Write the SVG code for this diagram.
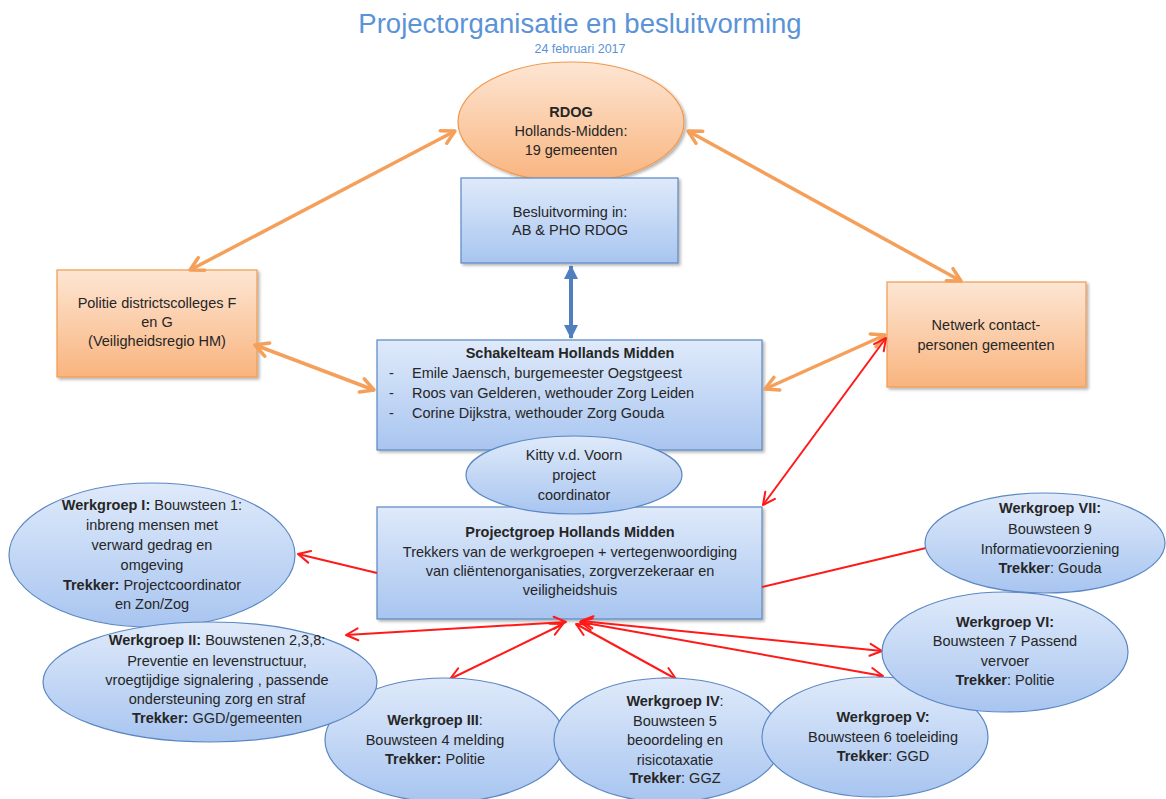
<svg xmlns="http://www.w3.org/2000/svg" width="1166" height="799" viewBox="0 0 1166 799">
<style>
text{font-family:"Liberation Sans",Arial,sans-serif;font-size:14.5px;fill:#262626;text-anchor:middle}
.b{font-weight:bold}
.bl{fill:url(#gBlue);stroke:#5b87c3;stroke-width:1.2}
.or{fill:url(#gOr);stroke:#f2994e;stroke-width:1.2}
.oa{stroke:#f5a05a;stroke-width:3.5;fill:none;marker-start:url(#mO);marker-end:url(#mO)}
.ra{stroke:#ff1a1a;stroke-width:2;fill:none}
.rd{marker-start:url(#mR);marker-end:url(#mR)}
.re{marker-end:url(#mR)}
</style>
<defs>
<linearGradient id="gBlue" x1="0" y1="0" x2="0" y2="1"><stop offset="0" stop-color="#dfeafa"/><stop offset="1" stop-color="#a8c5f0"/></linearGradient>
<linearGradient id="gOr" x1="0" y1="0" x2="0" y2="1"><stop offset="0" stop-color="#fde6d4"/><stop offset="1" stop-color="#f9b47e"/></linearGradient>
<filter id="sh" x="-10%" y="-10%" width="130%" height="130%"><feDropShadow dx="2" dy="2" stdDeviation="1.5" flood-color="#000" flood-opacity="0.3"/></filter>
<marker id="mO" markerUnits="userSpaceOnUse" markerWidth="18" markerHeight="18" viewBox="0 0 18 18" refX="16" refY="9" orient="auto-start-reverse"><path d="M3,2 L16,9 L3,16" fill="none" stroke="#f5a05a" stroke-width="3.5" stroke-linecap="round" stroke-linejoin="round"/></marker>
<marker id="mR" markerUnits="userSpaceOnUse" markerWidth="16" markerHeight="16" viewBox="0 0 16 16" refX="14" refY="8" orient="auto-start-reverse"><path d="M2,2 L14,8 L2,14" fill="none" stroke="#ff1a1a" stroke-width="2" stroke-linecap="round" stroke-linejoin="round"/></marker>
<marker id="mB" markerUnits="userSpaceOnUse" markerWidth="14" markerHeight="14" viewBox="0 0 14 14" refX="13" refY="7" orient="auto-start-reverse"><path d="M0,0 L14,7 L0,14 Z" fill="#4f7fbf"/></marker>
</defs>
<rect width="1166" height="799" fill="#ffffff"/>
<g id="title">
<text x="580" y="33" style="font-size:27.5px;fill:#5b93d8">Projectorganisatie en besluitvorming</text>
<text x="580" y="53" style="font-size:12.5px;fill:#5b93d8">24 februari 2017</text>
</g>
<g id="rdog">
<ellipse class="or" cx="571" cy="122" rx="113" ry="60" filter="url(#sh)"/>
<text x="571" y="117" class="b">RDOG</text>
<text x="571" y="136">Hollands-Midden:</text>
<text x="571" y="155">19 gemeenten</text>
</g>
<g id="besluitvorming">
<rect class="bl" x="461" y="178" width="217" height="85" filter="url(#sh)"/>
<text x="570" y="217">Besluitvorming in:</text>
<text x="570" y="235">AB &amp; PHO RDOG</text>
</g>
<g id="politie">
<rect class="or" x="57" y="270" width="200" height="107" filter="url(#sh)"/>
<text x="157" y="308">Politie districtscolleges F</text>
<text x="157" y="327">en G</text>
<text x="157" y="346">(Veiligheidsregio HM)</text>
</g>
<g id="netwerk">
<rect class="or" x="887" y="282" width="199" height="105" filter="url(#sh)"/>
<text x="986" y="330">Netwerk  contact-</text>
<text x="986" y="350">personen gemeenten</text>
</g>
<g id="schakelteam">
<rect class="bl" x="377" y="340" width="385" height="110" filter="url(#sh)"/>
<text x="570" y="358" class="b">Schakelteam Hollands  Midden</text>
<text x="389" y="378" style="text-anchor:start">-</text>
<text x="412" y="378" style="text-anchor:start">Emile Jaensch, burgemeester  Oegstgeest</text>
<text x="389" y="398" style="text-anchor:start">-</text>
<text x="412" y="398" style="text-anchor:start">Roos van Gelderen,  wethouder  Zorg Leiden</text>
<text x="389" y="418" style="text-anchor:start">-</text>
<text x="412" y="418" style="text-anchor:start">Corine Dijkstra, wethouder  Zorg Gouda</text>
</g>
<g id="projectgroep">
<rect class="bl" x="377" y="507" width="385" height="112" filter="url(#sh)"/>
<text x="570" y="537" class="b">Projectgroep Hollands  Midden</text>
<text x="570" y="557">Trekkers van de werkgroepen  + vertegenwoordiging</text>
<text x="570" y="576">van cliëntenorganisaties, zorgverzekeraar en</text>
<text x="570" y="595">veiligheidshuis</text>
</g>
<g id="kitty">
<ellipse class="bl" cx="574" cy="475" rx="108" ry="39"/>
<text x="574" y="460">Kitty v.d. Voorn</text>
<text x="574" y="480">project</text>
<text x="574" y="500">coordinator</text>
</g>
<g id="connectors">
<line class="oa" x1="455" y1="131" x2="190" y2="270"/>
<line class="oa" x1="688" y1="131" x2="961" y2="281"/>
<line class="oa" x1="255" y1="345" x2="374" y2="390"/>
<line class="oa" x1="765" y1="389" x2="885" y2="335"/>
<line x1="571" y1="266" x2="571" y2="338" stroke="#4f7fbf" stroke-width="4" marker-start="url(#mB)" marker-end="url(#mB)"/>
<line class="ra rd" x1="763" y1="505" x2="886" y2="338"/>
<line class="ra re" x1="377" y1="573" x2="298" y2="554"/>
<line class="ra" x1="762" y1="587" x2="926" y2="548"/>
<line class="ra rd" x1="566" y1="622" x2="346" y2="635"/>
<line class="ra rd" x1="563" y1="624" x2="450" y2="679"/>
<line class="ra rd" x1="576" y1="624" x2="676" y2="679"/>
<line class="ra rd" x1="580" y1="622" x2="883" y2="676"/>
<line class="ra rd" x1="581" y1="621" x2="882" y2="651"/>
</g>
<g id="wg1">
<ellipse class="bl" cx="152" cy="555" rx="143" ry="72"/>
<text x="152" y="510"><tspan class="b">Werkgroep I:</tspan>  Bouwsteen  1:</text>
<text x="152" y="530">inbreng mensen met</text>
<text x="152" y="550">verward gedrag en</text>
<text x="152" y="570">omgeving</text>
<text x="152" y="590"><tspan class="b">Trekker:</tspan> Projectcoordinator</text>
<text x="152" y="609">en Zon/Zog</text>
</g>
<g id="wg7">
<ellipse class="bl" cx="1045" cy="543" rx="120" ry="50"/>
<text x="1050" y="513" class="b">Werkgroep VII:</text>
<text x="1050" y="534">Bouwsteen  9</text>
<text x="1050" y="554">Informatievoorziening</text>
<text x="1050" y="573"><tspan class="b">Trekker</tspan>: Gouda</text>
</g>
<g id="wg3">
<ellipse class="bl" cx="445" cy="740" rx="120" ry="62"/>
<text x="435" y="725"><tspan class="b">Werkgroep III</tspan>:</text>
<text x="435" y="745">Bouwsteen  4 melding</text>
<text x="435" y="764"><tspan class="b">Trekker:</tspan> Politie</text>
</g>
<g id="wg2">
<ellipse class="bl" cx="210" cy="682" rx="167" ry="60"/>
<text x="217" y="645"><tspan class="b">Werkgroep II:</tspan>  Bouwstenen  2,3,8:</text>
<text x="217" y="666">Preventie en  levenstructuur,</text>
<text x="217" y="685">vroegtijdige signalering , passende</text>
<text x="217" y="704">ondersteuning zorg en  straf</text>
<text x="217" y="723"><tspan class="b">Trekker:</tspan> GGD/gemeenten</text>
</g>
<g id="wg4">
<ellipse class="bl" cx="668" cy="740" rx="114" ry="62"/>
<text x="675" y="706"><tspan class="b">Werkgroep IV</tspan>:</text>
<text x="675" y="726">Bouwsteen  5</text>
<text x="675" y="745">beoordeling en</text>
<text x="675" y="765">risicotaxatie</text>
<text x="675" y="783"><tspan class="b">Trekker</tspan>: GGZ</text>
</g>
<g id="wg5">
<ellipse class="bl" cx="875" cy="737" rx="113" ry="60"/>
<text x="883" y="722" class="b">Werkgroep V:</text>
<text x="883" y="742">Bouwsteen  6 toeleiding</text>
<text x="883" y="761"><tspan class="b">Trekker</tspan>: GGD</text>
</g>
<g id="wg6">
<ellipse class="bl" cx="1005" cy="652" rx="123" ry="60"/>
<text x="1005" y="627" class="b">Werkgroep VI:</text>
<text x="1005" y="646">Bouwsteen  7 Passend</text>
<text x="1005" y="666">vervoer</text>
<text x="1005" y="685"><tspan class="b">Trekker</tspan>: Politie</text>
</g>
</svg>
